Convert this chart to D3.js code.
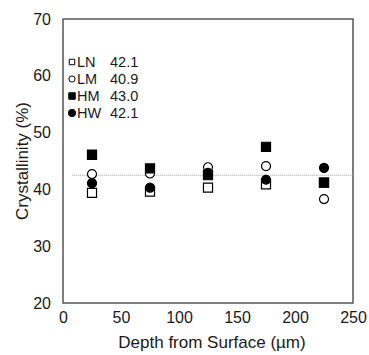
<!DOCTYPE html>
<html lang="en">
<head>
    <meta charset="UTF-8">
    <title>Crystallinity vs depth</title>
    <script src="https://d3js.org/d3.v7.min.js"></script>
    <style>
        body { margin: 0; background: #fff; font-family: "Liberation Sans", Arial, sans-serif; }
        .tick text { font-size: 16px; fill: #1a1a1a; }
    </style>
</head>
<body>
    <svg width="369" height="355"></svg>
    <script>
        // Data
        const depths = [25, 75, 125, 175, 225];
        const seriesNames = ["LN", "LM", "HM", "HW"];
        const means = ["42.1", "40.9", "43.0", "42.1"];
        const lnValues = [39.4, 39.6, 40.3, 40.9, 41.2];
        const lmValues = [42.7, 42.8, 43.9, 44.1, 38.3];
        const hmValues = [46.1, 43.7, 42.5, 47.5, 41.2];
        const hwValues = [41.1, 40.3, 42.9, 41.7, 43.8];
        const overallMean = 42.5;
        const xTicks = [0, 50, 100, 150, 200, 250];
        const yTicks = [20, 30, 40, 50, 60, 70];

        const series = [
            { name: "LN", values: lnValues, shape: "square", filled: false },
            { name: "LM", values: lmValues, shape: "circle", filled: false },
            { name: "HM", values: hmValues, shape: "square", filled: true },
            { name: "HW", values: hwValues, shape: "circle", filled: true }
        ];

        const margin = { top: 19, right: 16, bottom: 52, left: 63 };
        const width = 369 - margin.left - margin.right;
        const height = 355 - margin.top - margin.bottom;

        const svg = d3.select("svg");
        const g = svg.append("g").attr("transform", `translate(${margin.left},${margin.top})`);

        const x = d3.scaleLinear().domain([0, 250]).range([0, width]);
        const y = d3.scaleLinear().domain([20, 70]).range([height, 0]);

        // axes (labels only, no tick marks)
        const xAxis = g.append("g")
            .attr("transform", `translate(0,${height})`)
            .call(d3.axisBottom(x).tickValues(xTicks).tickSize(0).tickPadding(9));
        xAxis.select(".domain").remove();

        const yAxis = g.append("g")
            .call(d3.axisLeft(y).tickValues(yTicks).tickSize(0).tickPadding(12));
        yAxis.select(".domain").remove();

        // frame
        g.append("rect")
            .attr("width", width).attr("height", height)
            .attr("fill", "none").attr("stroke", "#555").attr("stroke-width", 1.5);

        // mean line
        g.append("line")
            .attr("x1", x(8)).attr("x2", x(250))
            .attr("y1", y(overallMean)).attr("y2", y(overallMean))
            .attr("stroke", "#999").attr("stroke-width", 1)
            .attr("stroke-dasharray", "1,1");

        const symbol = (shape, size) => d3.symbol()
            .type(shape === "square" ? d3.symbolSquare : d3.symbolCircle)
            .size(size)();

        // points
        series.forEach(s => {
            g.selectAll(null)
                .data(s.values)
                .enter()
                .append("path")
                .attr("d", symbol(s.shape, s.shape === "square" ? 82 : 64))
                .attr("transform", (d, i) => `translate(${x(depths[i])},${y(d)})`)
                .attr("fill", s.filled ? "#000" : "#fff")
                .attr("stroke", "#000")
                .attr("stroke-width", 1.2);
        });

        // legend
        const legend = g.append("g").attr("transform", "translate(9,43)");
        series.forEach((s, i) => {
            const row = legend.append("g").attr("transform", `translate(0,${i * 17})`);
            row.append("path")
                .attr("d", symbol(s.shape, s.filled ? 42 : 30))
                .attr("fill", s.filled ? "#000" : "#fff")
                .attr("stroke", "#000").attr("stroke-width", 1);
            row.append("text")
                .attr("x", 5).attr("y", 5)
                .attr("font-size", 14.5).attr("fill", "#1a1a1a")
                .text(seriesNames[i]);
            row.append("text")
                .attr("x", 38).attr("y", 5)
                .attr("font-size", 14.5).attr("fill", "#1a1a1a")
                .text(means[i]);
        });

        // axis titles
        svg.append("text")
            .attr("x", 212).attr("y", 348)
            .attr("text-anchor", "middle")
            .attr("font-size", 17).attr("fill", "#1a1a1a")
            .text("Depth from Surface (µm)");

        svg.append("text")
            .attr("transform", `translate(28,${margin.top + height / 2}) rotate(-90)`)
            .attr("text-anchor", "middle")
            .attr("font-size", 17).attr("fill", "#1a1a1a")
            .text("Crystallinity (%)");
    </script>
</body>
</html>
